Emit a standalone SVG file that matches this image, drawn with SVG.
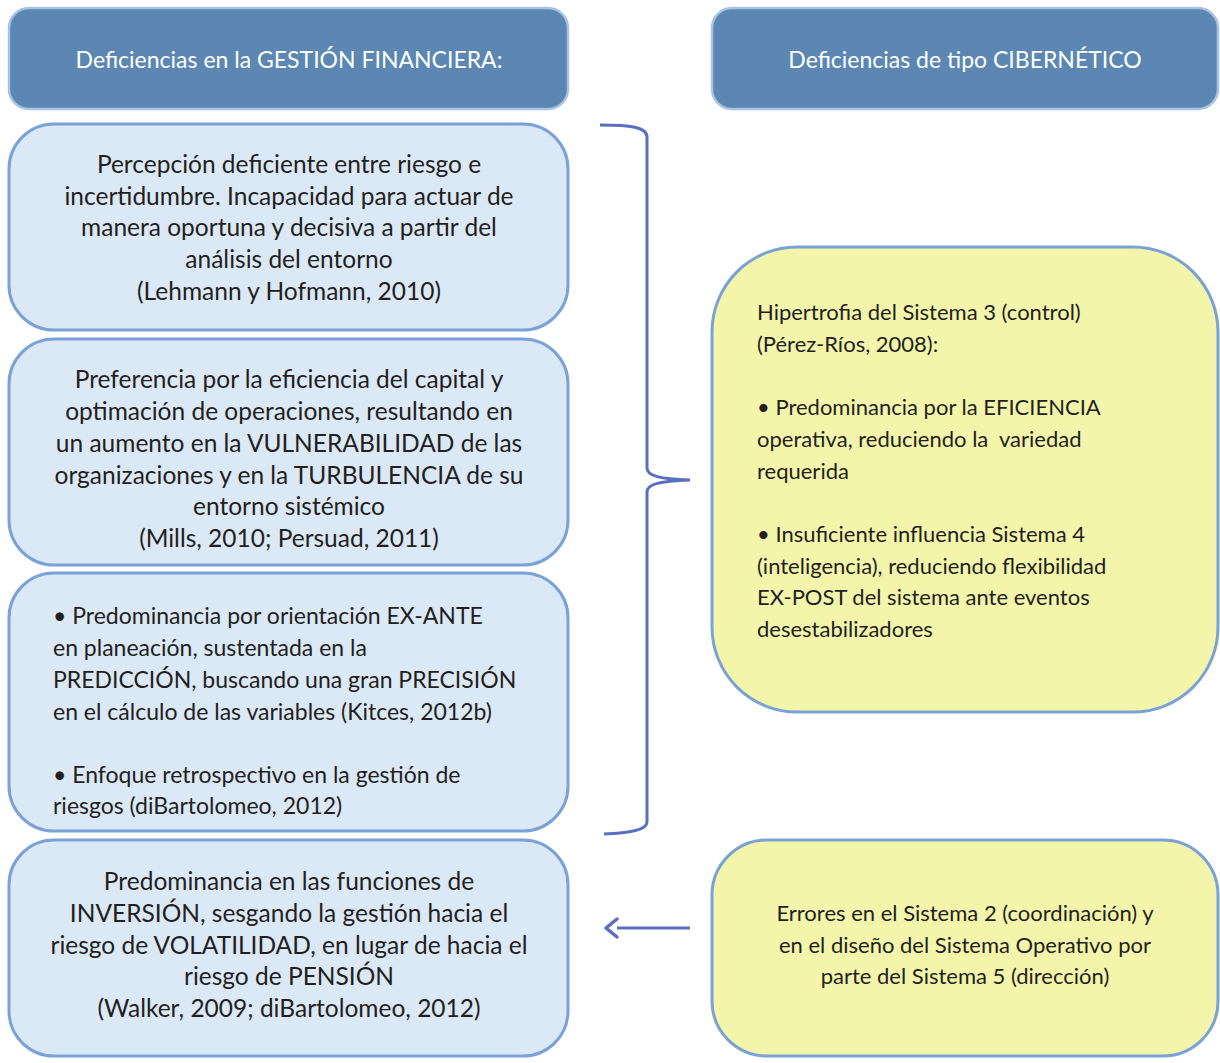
<svg xmlns="http://www.w3.org/2000/svg" width="1220" height="1063" viewBox="0 0 1220 1063">
<defs>
<style>
.hdr{fill:#5b87b2;stroke:#a8c3e4;stroke-width:2.5}
.blue{fill:#dbe8f6;stroke:#7aa2d6;stroke-width:3}
.yel{fill:#f3f5aa;stroke:#7aa2d6;stroke-width:3}
.t{font-family:Lato,"Open Sans","Liberation Sans",sans-serif;font-size:22px;fill:#231f20}
.L{font-size:24.5px}
.M{font-size:23px}
.th{font-family:Lato,"Open Sans","Liberation Sans",sans-serif;font-size:23px;fill:#ffffff}
.c{text-anchor:middle}
.con{fill:none;stroke:#5a6fc2;stroke-width:3}
</style>
<marker id="ah" viewBox="0 0 16 22" refX="2" refY="11" markerWidth="16" markerHeight="22" markerUnits="userSpaceOnUse" orient="auto">
<path d="M2,2 L13,11 L2,20" fill="none" stroke="#5a6fc2" stroke-width="3.5" stroke-linecap="round" stroke-linejoin="round"/>
</marker>
</defs>
<rect width="1220" height="1063" fill="#ffffff"/>
<g id="hdr-fin">
<rect class="hdr" x="9" y="8" width="559" height="101" rx="20"/>
<text class="th c" x="289" y="68">Deficiencias en la GESTIÓN FINANCIERA:</text>
</g>
<g id="hdr-cib">
<rect class="hdr" x="712" y="8" width="506" height="101" rx="20"/>
<text class="th c" x="965" y="68">Deficiencias de tipo CIBERNÉTICO</text>
</g>
<g id="box1">
<rect class="blue" x="9" y="124" width="559" height="206" rx="45"/>
<text class="t L c" x="289" y="173">Percepción deficiente entre riesgo e</text>
<text class="t L c" x="289" y="205">incertidumbre. Incapacidad para actuar de</text>
<text class="t L c" x="289" y="236">manera oportuna y decisiva a partir del</text>
<text class="t L c" x="289" y="268">análisis del entorno</text>
<text class="t L c" x="289" y="300">(Lehmann y Hofmann, 2010)</text>
</g>
<g id="box2">
<rect class="blue" x="9" y="339" width="559" height="226" rx="45"/>
<text class="t L c" x="289" y="388">Preferencia por la eficiencia del capital y</text>
<text class="t L c" x="289" y="420">optimación de operaciones, resultando en</text>
<text class="t L c" x="289" y="452">un aumento en la VULNERABILIDAD de las</text>
<text class="t L c" x="289" y="484">organizaciones y en la TURBULENCIA de su</text>
<text class="t L c" x="289" y="515">entorno sistémico</text>
<text class="t L c" x="289" y="547">(Mills, 2010; Persuad, 2011)</text>
</g>
<g id="box3">
<rect class="blue" x="9" y="573" width="559" height="258" rx="45"/>
<text class="t M" x="53" y="624">• Predominancia por orientación EX-ANTE</text>
<text class="t M" x="53" y="656">en planeación, sustentada en la</text>
<text class="t M" x="53" y="688">PREDICCIÓN, buscando una gran PRECISIÓN</text>
<text class="t M" x="53" y="720">en el cálculo de las variables (Kitces, 2012b)</text>
<text class="t M" x="53" y="783">• Enfoque retrospectivo en la gestión de</text>
<text class="t M" x="53" y="814">riesgos (diBartolomeo, 2012)</text>
</g>
<g id="box4">
<rect class="blue" x="9" y="840" width="559" height="216" rx="45"/>
<text class="t L c" x="289" y="890">Predominancia en las funciones de</text>
<text class="t L c" x="289" y="922">INVERSIÓN, sesgando la gestión hacia el</text>
<text class="t L c" x="289" y="954">riesgo de VOLATILIDAD, en lugar de hacia el</text>
<text class="t L c" x="289" y="985">riesgo de PENSIÓN</text>
<text class="t L c" x="289" y="1017">(Walker, 2009; diBartolomeo, 2012)</text>
</g>
<g id="cib1">
<rect class="yel" x="712" y="247" width="506" height="465" rx="85"/>
<text class="t" x="757" y="320">Hipertrofia del Sistema 3 (control)</text>
<text class="t" x="757" y="352">(Pérez-Ríos, 2008):</text>
<text class="t" x="757" y="415">• Predominancia por la EFICIENCIA</text>
<text class="t" x="757" y="447" xml:space="preserve">operativa, reduciendo la  variedad</text>
<text class="t" x="757" y="479">requerida</text>
<text class="t" x="757" y="542">• Insuficiente influencia Sistema 4</text>
<text class="t" x="757" y="574">(inteligencia), reduciendo flexibilidad</text>
<text class="t" x="757" y="605">EX-POST del sistema ante eventos</text>
<text class="t" x="757" y="637">desestabilizadores</text>
</g>
<g id="cib2">
<rect class="yel" x="712" y="840" width="506" height="216" rx="55"/>
<text class="t c" x="965" y="921">Errores en el Sistema 2 (coordinación) y</text>
<text class="t c" x="965" y="953">en el diseño del Sistema Operativo por</text>
<text class="t c" x="965" y="984">parte del Sistema 5 (dirección)</text>
</g>
<g id="connectors">
<path class="con" d="M600,125 C630,125 647,127 647,137 L647,468 C647,476 660,479 690,480 C660,481 647,484 647,492 L647,822 C647,830 630,833 604,834"/>
<path class="con" d="M690,928 L617,928" marker-end="url(#ah)"/>
</g>
</svg>
